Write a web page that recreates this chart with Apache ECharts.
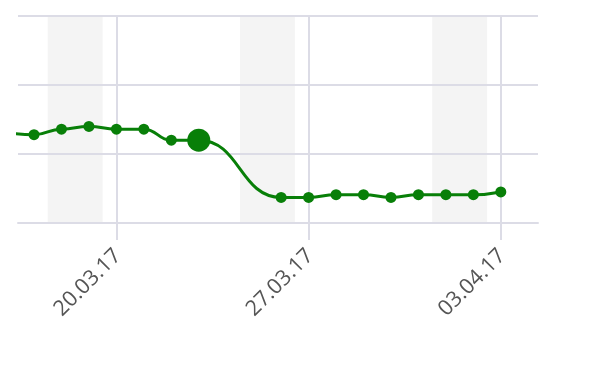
<!DOCTYPE html>
<html>
<head>
<meta charset="utf-8">
<script src="https://cdn.jsdelivr.net/npm/echarts@6/dist/echarts.min.js"></script>
<style>html,body{margin:0;padding:0;background:#fff}#c{width:589px;height:373px}</style>
</head>
<body>
<div id="c"></div>
<script>
// Data
var dates = ['16.03.17','17.03.17','18.03.17','19.03.17','20.03.17','21.03.17','22.03.17','23.03.17',
             '26.03.17','27.03.17','28.03.17','29.03.17','30.03.17','31.03.17','01.04.17','02.04.17','03.04.17'];
var values = [1.31, 1.28, 1.36, 1.40, 1.36, 1.36, 1.20, 1.20,
              0.37, 0.37, 0.41, 0.41, 0.37, 0.41, 0.41, 0.41, 0.45];
var highlightDate = '23.03.17';
var tickDates = ['20.03.17', '27.03.17', '03.04.17'];
var weekendStart = ['17.03.17 12:00', '24.03.17 12:00', '31.03.17 12:00'];
var weekendEnd = ['19.03.17 12:00', '26.03.17 12:00', '02.04.17 12:00'];
var axisStart = '16.03.17 10:00';
var axisEnd = '04.04.17 08:30';

var BASE = Date.UTC(2017, 2, 20);
function toDay(s) {
  var p = s.split(' ');
  var d = p[0].split('.');
  var h = 0, m = 0;
  if (p[1]) { var t = p[1].split(':'); h = +t[0]; m = +t[1]; }
  var ms = Date.UTC(2000 + (+d[2]), (+d[1]) - 1, +d[0], h, m);
  return (ms - BASE) / 86400000;
}
function fmt(v) {
  var dt = new Date(BASE + Math.round(v) * 86400000);
  var dd = ('0' + dt.getUTCDate()).slice(-2);
  var mm = ('0' + (dt.getUTCMonth() + 1)).slice(-2);
  var yy = ('' + dt.getUTCFullYear()).slice(-2);
  return dd + '.' + mm + '.' + yy;
}

var seriesData = dates.map(function (d, i) {
  var item = { value: [toDay(d), values[i]] };
  if (d === highlightDate) item.symbolSize = 23;
  return item;
});
var tickVals = tickDates.map(toDay);
var gridColor = '#dcdce6';
var green = '#087f08';

var chart = echarts.init(document.getElementById('c'), null, { renderer: 'canvas' });
chart.setOption({
  animation: false,
  grid: { left: 18, right: 51, top: 16, bottom: 150, containLabel: false },
  xAxis: {
    type: 'value', z: 2,
    min: toDay(axisStart),
    max: toDay(axisEnd),
    axisLine: { show: true, lineStyle: { color: gridColor, width: 2 } },
    axisTick: { show: true, customValues: tickVals, length: 17, lineStyle: { color: gridColor, width: 2 } },
    axisLabel: {
      show: true, customValues: tickVals, rotate: 45, margin: 14,
      align: 'right', verticalAlign: 'top', lineHeight: 24, padding: [0, 10, 0, 0],
      color: '#555', fontSize: 21.5, fontFamily: 'Open Sans',
      formatter: function (v) { return fmt(v); }
    },
    splitLine: { show: false }
  },
  yAxis: {
    type: 'value', min: 0, max: 3, interval: 1, z: 2,
    axisLine: { show: false }, axisTick: { show: false }, axisLabel: { show: false },
    splitLine: { show: true, lineStyle: { color: gridColor, width: 2 } }
  },
  series: [
    {
      type: 'line', data: [], z: 1, silent: true,
      markArea: {
        silent: true, z: 1,
        itemStyle: { color: '#f4f4f4' },
        data: weekendStart.map(function (s, i) { return [{ xAxis: toDay(s) }, { xAxis: toDay(weekendEnd[i]) }]; })
      },
      markLine: {
        silent: true, z: 2, symbol: 'none', label: { show: false },
        lineStyle: { color: gridColor, width: 2, type: 'solid' },
        data: tickVals.map(function (v) { return { xAxis: v }; })
      }
    },
    {
      type: 'line', z: 5,
      data: seriesData,
      smooth: 0.5, smoothMonotone: 'x',
      symbol: 'circle', symbolSize: 11,
      lineStyle: { color: green, width: 3 },
      itemStyle: { color: green },
      clip: true
    }
  ]
});
</script>
</body>
</html>
